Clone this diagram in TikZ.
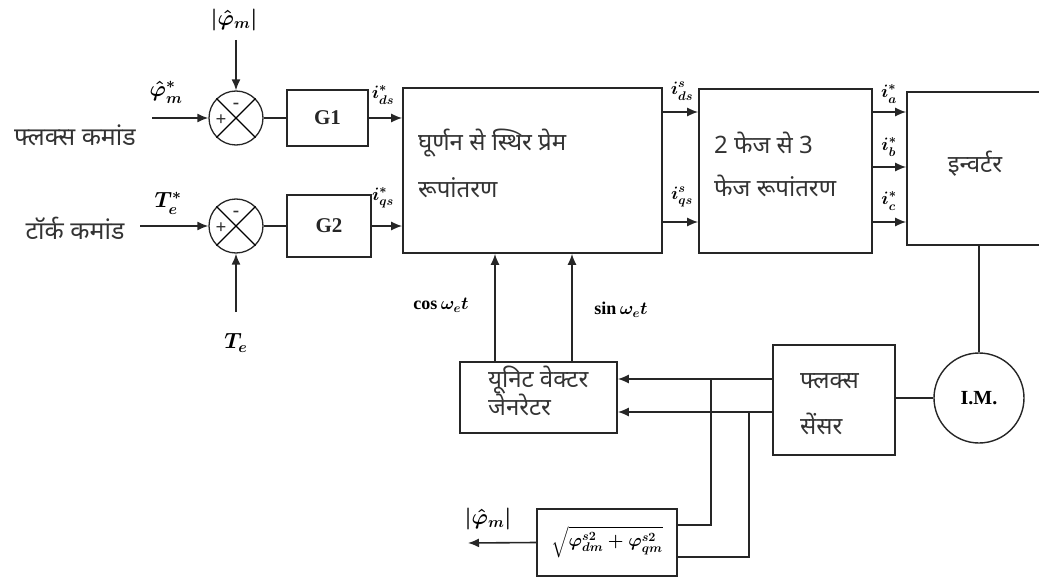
\documentclass[tikz,border=0pt]{standalone}
\usepackage{fix-cm}
\usepackage{amsmath}
\usepackage{fontspec}
\setmainfont{Liberation Serif}
\newfontfamily\dev[Script=Devanagari]{Noto Sans}
\usetikzlibrary{arrows.meta,calc}
\begin{document}
\begin{tikzpicture}[x=1pt,y=-1pt,
  ln/.style={line width=1.6pt,draw=black!85},
  blk/.style={draw=black!85,line width=1.6pt,rectangle,inner sep=0pt},
  sumj/.style={draw=black!85,circle,line width=1.3pt,minimum size=54pt,inner sep=0pt},
  arr/.style={ln,-{Latex[length=11pt,width=9pt]}},
  dv/.style={font=\dev\fontsize{24}{26}\selectfont,text=black!80,inner sep=0pt},
  lbl/.style={font=\fontsize{18}{20}\selectfont\boldmath,inner sep=0pt},
  plbl/.style={font=\fontsize{22}{24}\selectfont\boldmath,inner sep=0pt},
  sgn/.style={font=\bfseries\fontsize{19}{19}\selectfont,inner sep=0pt,text=black!80},
  bl/.style={font=\bfseries\fontsize{21}{23}\selectfont,text=black!85}]
\useasboundingbox (0,0) rectangle (1039,583);
\clip (0,0) rectangle (1039,583);
% summing junctions
\node[sumj] (s1) at (236,118) {};
\node[sumj] (s2) at (236,226) {};
\draw[line width=1.1pt] (s1.45) -- (s1.225);
\draw[line width=1.1pt] (s1.135) -- (s1.-45);
\draw[line width=1.1pt] (s2.45) -- (s2.225);
\draw[line width=1.1pt] (s2.135) -- (s2.-45);
\node[sgn] (m1) at (236,106) {-};
\node[sgn] (p1) at (221,120) {+};
\node[sgn] (m2) at (236,214) {-};
\node[sgn] (p2) at (221,228) {+};
% blocks
\node[blk,minimum width=81pt,minimum height=56pt,bl] (g1) at (327.5,118) {G1};
\node[blk,minimum width=84pt,minimum height=62pt,bl] (g2) at (329,226) {G2};
\node[blk,minimum width=259pt,minimum height=165pt] (big) at (532.5,170.5) {};
\node[dv,anchor=west] (bt1) at (418,143) {घूर्णन से स्थिर प्रेम};
\node[dv,anchor=west] (bt2) at (418,188) {रूपांतरण};
\node[blk,minimum width=173pt,minimum height=164pt] (ph) at (785.5,171) {};
\node[dv,anchor=west] (pt1) at (714,143) {2 फेज से 3};
\node[dv,anchor=west] (pt2) at (714,186) {फेज रूपांतरण};
\node[blk,minimum width=150pt,minimum height=153pt] (inv) at (982,168.5) {};
\node[dv] (invt) at (975,164) {इन्वर्टर};
\node[draw=black!85,circle,line width=1.4pt,minimum size=90pt,inner sep=0pt,font=\bfseries\fontsize{20}{22}\selectfont] (im) at (979,398) {I.M.};
\node[blk,minimum width=122pt,minimum height=110pt] (sens) at (834,400) {};
\node[dv,anchor=west] (st1) at (800,381) {फ्लक्स};
\node[dv,anchor=west] (st2) at (800,424) {सेंसर};
\node[blk,minimum width=157pt,minimum height=71pt] (uvg) at (538.5,397.5) {};
\node[dv,anchor=west] (ut1) at (488,380) {यूनिट वेक्टर};
\node[dv,anchor=west] (ut2) at (488,405) {जेनरेटर};
\node[blk,lbl,minimum width=140pt,minimum height=67pt] (sq) at (607,542.5) {$\sqrt{\varphi^{s2}_{dm}+\varphi^{s2}_{qm}}$};
% input labels
\node[dv,font=\dev\fontsize{25}{27}\selectfont] (fc) at (75,135) {फ्लक्स कमांड};
\node[dv,font=\dev\fontsize{25}{27}\selectfont] (tc) at (75,228) {टॉर्क कमांड};
\node[plbl] (lphi) at (166,92) {$\hat{\varphi}^{*}_{m}$};
\node[plbl] (lphit) at (234,20) {$|\hat{\varphi}_{m}|$};
\node[plbl] (lt) at (168,203) {$T^{*}_{e}$};
\node[plbl] (lte) at (236,343) {$T_{e}$};
\coordinate (fin) at (152,118);
\coordinate (tin) at (140,226);
\coordinate (ptop) at (236,40);
\coordinate (tbot) at (236,312);
\draw[arr] (fin) -- (s1.west);
\draw[arr] (ptop) -- (s1.north);
\draw[arr] (tin) -- (s2.west);
\draw[arr] (tbot) -- (s2.south);
\draw[ln] (s1.east) -- (g1.west);
\draw[ln] (s2.east) -- (g2.west);
\draw[arr] (g1.east) -- (g1.east -| big.west);
\draw[arr] (g2.east) -- (g2.east -| big.west);
\node[lbl] (ia1) at (383,95) {$i^{*}_{ds}$};
\node[lbl] (ia2) at (383,198) {$i^{*}_{qs}$};
% big -> phase
\draw[arr] (big.east |- 0,112) -- (ph.west |- 0,112);
\draw[arr] (big.east |- 0,222) -- (ph.west |- 0,222);
\node[lbl] (ib1) at (682,91) {$i^{s}_{ds}$};
\node[lbl] (ib2) at (682,197) {$i^{s}_{qs}$};
% phase -> inverter
\draw[arr] (ph.east |- 0,112) -- (inv.west |- 0,112);
\draw[arr] (ph.east |- 0,167) -- (inv.west |- 0,167);
\draw[arr] (ph.east |- 0,222) -- (inv.west |- 0,222);
\node[lbl] (ic1) at (889,94) {$i^{*}_{a}$};
\node[lbl] (ic2) at (889,147) {$i^{*}_{b}$};
\node[lbl] (ic3) at (889,201) {$i^{*}_{c}$};
% inverter -> IM, sensor
\draw[ln] (im.north |- inv.south) -- (im.north);
\draw[ln] (sens.east |- im.west) -- (im.west);
% sensor -> UVG
\draw[arr] (sens.west |- 0,379) -- (uvg.east |- 0,379);
\draw[arr] (sens.west |- 0,412) -- (uvg.east |- 0,412);
% UVG -> big
\draw[arr] (uvg.north -| 495,0) -- (big.south -| 495,0);
\draw[arr] (uvg.north -| 572,0) -- (big.south -| 572,0);
\node[lbl] (lcos) at (441,305) {$\cos\omega_{e}t$};
\node[lbl] (lsin) at (621,310) {$\sin\omega_{e}t$};
% sqrt block feed
\coordinate (d1) at (711,379);
\coordinate (d2) at (749,412);
\draw[ln] (d1) -- (d1 |- 0,525) -- (sq.east |- 0,525);
\draw[ln] (d2) -- (d2 |- 0,557) -- (sq.east |- 0,557);
\coordinate (out) at (468,543);
\draw[arr] (sq.west) -- (out);
\node[plbl] (lout) at (488,519) {$|\hat{\varphi}_{m}|$};
\end{tikzpicture}
\end{document}
